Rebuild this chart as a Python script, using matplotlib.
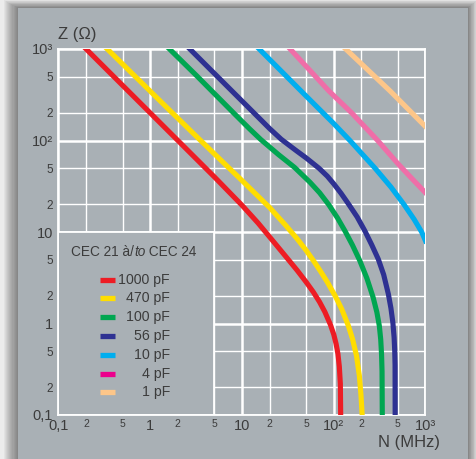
import matplotlib
matplotlib.use('Agg')
import matplotlib.pyplot as plt
from matplotlib.patches import Rectangle
from matplotlib.lines import Line2D
from matplotlib.ticker import LogLocator, FixedLocator, FixedFormatter, FuncFormatter
import math

# ---------------- data ----------------
labels = ['1000 pF', '470 pF', '100 pF', '56 pF', '10 pF', '4 pF', '1 pF']
line_colors = ['#ed1c24', '#ffdd00', '#00a651', '#2e3192', '#00aeef', '#ef6ea8', '#fdc689']
swatch_colors = ['#ed1c24', '#ffde00', '#00a651', '#2e3192', '#00aeef', '#ec008c', '#fdc689']

# frequency (MHz) / impedance (ohm) pairs
f_1000 = [0.2, 1.0, 2.0, 5.0, 10, 15, 21.7, 30, 40, 50, 60, 70, 80, 92, 100, 106, 111,
          115, 118, 119]
z_1000 = [1000, 200, 100, 40, 19.6, 12.5, 8.0, 5.4, 3.8, 2.84, 2.2, 1.72, 1.34, 0.97,
          0.76, 0.60, 0.467, 0.339, 0.219, 0.1]

f_470 = [0.34, 1.7, 3.4, 6.8, 9.6, 20, 30, 40, 50, 60, 72, 85, 104, 122, 144, 160, 177,
         190, 198, 204]
z_470 = [1000, 205, 104, 53, 38, 18.5, 11.8, 8.4, 6.3, 4.87, 3.7, 2.84, 1.99, 1.44, 0.95,
         0.68, 0.445, 0.27, 0.165, 0.1]

f_100 = [1.62, 3.27, 8.1, 12, 16, 25, 37.4, 55, 70, 88.5, 110, 133, 160, 192, 230, 269,
         295, 314, 325, 332, 336, 338]
z_100 = [1000, 500, 200, 135, 102.6, 70.1, 50.8, 35.0, 26.9, 19.8, 14.2, 10.2, 7.18, 4.88,
         3.11, 1.92, 1.33, 0.94, 0.67, 0.455, 0.3, 0.1]

f_56 = [2.7, 5.4, 13.5, 20, 26.8, 38, 50, 69.3, 85, 100, 120, 144, 180, 218, 260, 306,
        350, 394, 420, 441, 455, 462, 466, 467]
z_56 = [1000, 500, 200, 135, 103, 79, 64.5, 49.6, 40.8, 33.6, 26.5, 20.4, 14.6, 10.3, 7.2,
        5.04, 3.42, 2.09, 1.47, 1.02, 0.70, 0.50, 0.35, 0.1]

f_10 = [15.4, 52, 100, 150, 281, 420, 582, 750, 908, 1000]
z_10 = [1000, 294, 153, 100, 50, 31, 20, 13.8, 10, 8.0]

f_4 = [33.5, 88.5, 157, 301, 500, 700, 1000]
z_4 = [1000, 348, 200, 100, 55.9, 39, 26.8]

f_1 = [135, 411, 1000]
z_1 = [1000, 348, 142]

series_f = [f_1000, f_470, f_100, f_56, f_10, f_4, f_1]
series_z = [z_1000, z_470, z_100, z_56, z_10, z_4, z_1]

major_ticks = [0.1, 1, 10, 100, 1000]
major_labels = ['0,1', '1', '10', '10²', '10³']

# ---------------- style ----------------
W, H = 477, 459
plt.rcParams['font.family'] = ['Liberation Sans', 'DejaVu Sans']
TXT = '#3c3c3c'
PANEL = '#a9b0b5'

fig = plt.figure(figsize=(W / 100, H / 100), dpi=100, facecolor='#ececec')


def rect_px(x0, y0, x1, y1, **kw):
    r = Rectangle((x0 / W, 1 - y1 / H), (x1 - x0) / W, (y1 - y0) / H,
                  transform=fig.transFigure, zorder=-5, **kw)
    fig.patches.append(r)
    return r


def fx(x):
    return x / W


def fy(y):
    return 1 - y / H


# drop shadow + panel
for d in range(1, 14):
    rect_px(18 - d * 1.1, 8 - d * 0.6, 468 + d * 0.7, 470, facecolor='black',
            edgecolor='none', alpha=0.04)
rect_px(18, 8, 468, 470, facecolor=PANEL, edgecolor='none')

ax = fig.add_axes([fx(58.5), fy(415), (425.5 - 58.5) / W, (415 - 49) / H])
ax.set_zorder(2)
ax.set_facecolor(PANEL)
ax.set_xscale('log')
ax.set_yscale('log')
ax.set_xlim(0.1, 1000)
ax.set_ylim(0.1, 1000)


def minor_fmt(v, p):
    e = math.floor(math.log10(v) + 1e-9)
    return '%d' % round(v / 10 ** e)


for axis in (ax.xaxis, ax.yaxis):
    axis.set_major_locator(FixedLocator(major_ticks))
    axis.set_major_formatter(FixedFormatter(major_labels))
    axis.set_minor_locator(LogLocator(base=10, subs=[2, 5], numticks=20))
    axis.set_minor_formatter(FuncFormatter(minor_fmt))

ax.set_axisbelow(True)
ax.grid(which='major', color='white', lw=1.8)
ax.grid(which='minor', color='white', lw=1.0)
for s in ax.spines.values():
    s.set_color('white')
    s.set_linewidth(1.3)

ax.tick_params(which='both', length=0, colors=TXT)
ax.tick_params(axis='x', which='major', labelsize=10.5, pad=3)
ax.tick_params(axis='x', which='minor', labelsize=7.5, pad=3)
ax.tick_params(axis='y', which='major', labelsize=10.5, pad=4)
ax.tick_params(axis='y', which='minor', labelsize=8.5, pad=4)

# legend area box
ax.add_patch(Rectangle((0.1, 0.1), 4.9, 9.9, facecolor=PANEL, edgecolor='white',
                       lw=1.3, zorder=1.5))

for fs, zs, c in zip(series_f, series_z, line_colors):
    ax.plot(fs, zs, color=c, lw=3.7, solid_capstyle='projecting',
            solid_joinstyle='round', zorder=3)

# axis titles
fig.text(fx(58), fy(34), 'Z (Ω)', ha='left', va='center', fontsize=12, color=TXT)
fig.text(fx(440), fy(442), 'N (MHz)', ha='right', va='center', fontsize=12, color=TXT)

# legend title with italic "to"
renderer = fig.canvas.get_renderer()
parts = [('CEC 21 à/', 'normal'), ('to', 'italic'), (' CEC 24', 'normal')]
texts = []
for s, st in parts:
    texts.append(fig.text(0, fy(252), s, ha='left', va='center', fontsize=9.8,
                          style=st, color=TXT))
widths = [t.get_window_extent(renderer).width for t in texts]
x = 134 - sum(widths) / 2
for t, w in zip(texts, widths):
    t.set_x(fx(x))
    x += w

rows = [279.7, 298.3, 317.3, 336.3, 355, 373.7, 392.3]
for lab, c, yy in zip(labels, swatch_colors, rows):
    fig.lines.append(Line2D([fx(100), fx(115)], [fy(yy), fy(yy)], color=c, lw=3.8,
                            solid_capstyle='butt', transform=fig.transFigure))
    fig.text(fx(170), fy(yy), lab, ha='right', va='center', fontsize=10.2, color=TXT)

fig.savefig('out.png', dpi=100, facecolor=fig.get_facecolor())
